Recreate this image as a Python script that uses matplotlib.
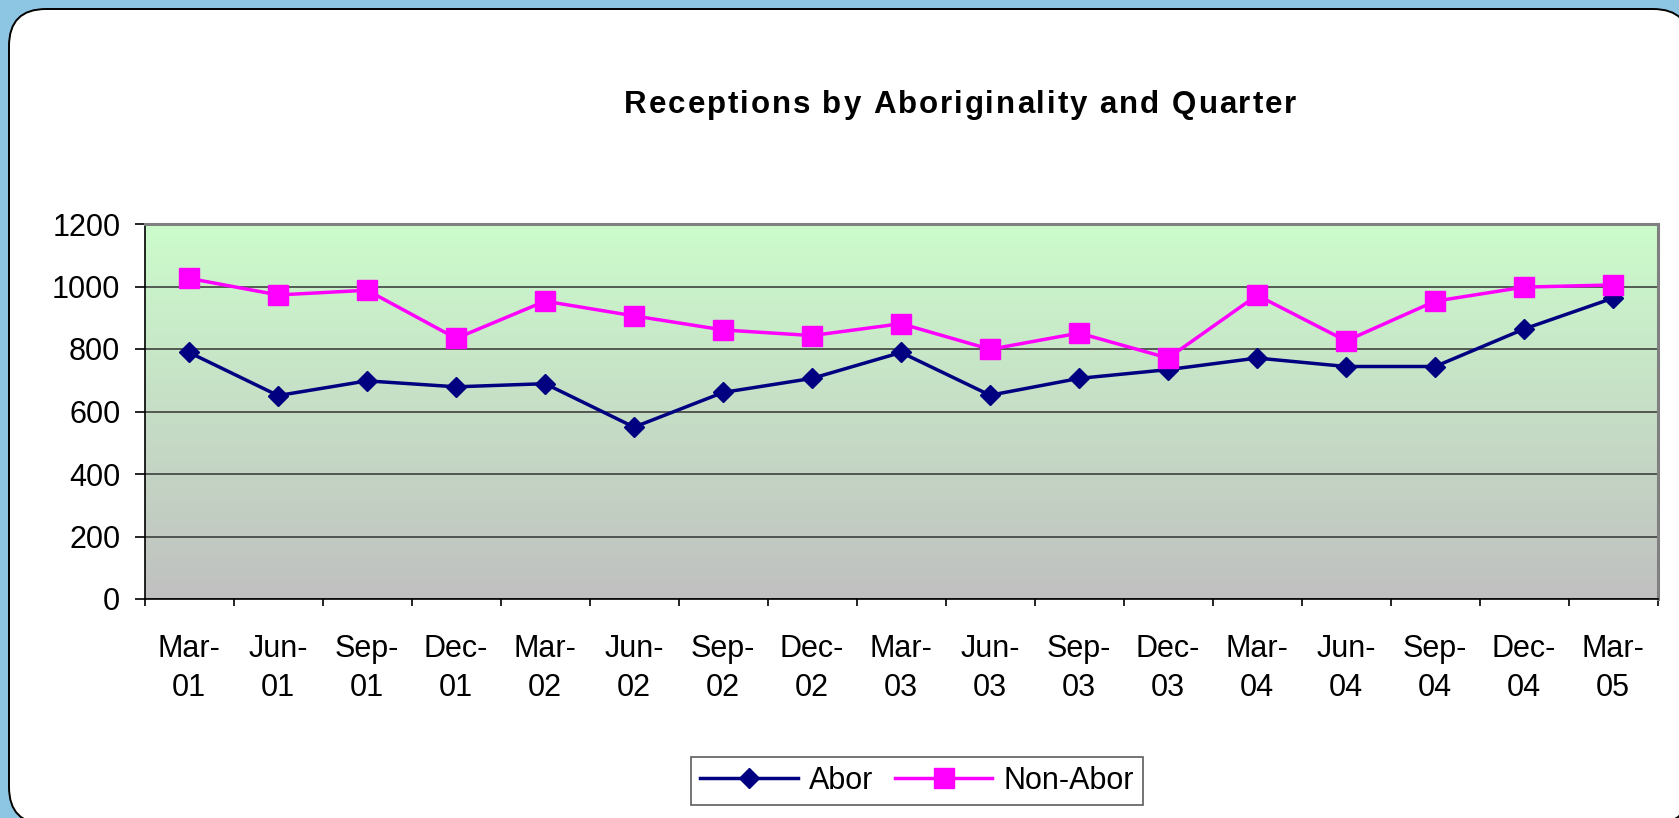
import numpy as np
import matplotlib
matplotlib.use("Agg")
import matplotlib.pyplot as plt
from matplotlib.patches import FancyBboxPatch
from matplotlib.colors import LinearSegmentedColormap

plt.rcParams['font.family'] = ['Liberation Sans', 'DejaVu Sans']

# quarters (two-line tick labels as in the original)
quarters = ['Mar-\n01', 'Jun-\n01', 'Sep-\n01', 'Dec-\n01',
            'Mar-\n02', 'Jun-\n02', 'Sep-\n02', 'Dec-\n02',
            'Mar-\n03', 'Jun-\n03', 'Sep-\n03', 'Dec-\n03',
            'Mar-\n04', 'Jun-\n04', 'Sep-\n04', 'Dec-\n04',
            'Mar-\n05']

abor = [789, 651, 698, 679, 689, 550, 661, 706, 789, 652,
        706, 734, 771, 744, 744, 864, 963]
non_abor = [1026, 973, 988, 834, 953, 906, 861, 843, 881, 799,
            851, 771, 972, 826, 953, 998, 1005]

title = 'Receptions by Aboriginality and Quarter'

W, H = 1679, 818
fig = plt.figure(figsize=(W / 100, H / 100), dpi=100, facecolor='#8DC6E3')

# white rounded panel drawn in pixel space
bg = fig.add_axes([0, 0, 1, 1])
bg.set_xlim(0, W)
bg.set_ylim(0, H)
bg.axis('off')
panel = FancyBboxPatch((9, -6), 1681, 815,
                       boxstyle='round,pad=0,rounding_size=37',
                       facecolor='white', edgecolor='black', lw=1.4)
bg.add_patch(panel)

ax = fig.add_axes([144.6 / W, 1 - 599 / H, (1657.6 - 144.6) / W, (599 - 224) / H])

# plot-area gradient: light green at the top to gray at the bottom
cmap = LinearSegmentedColormap.from_list('pa', ['#C0C0C0', '#CCFCCC'])
grad = np.linspace(0, 1, 256).reshape(-1, 1)
ax.imshow(grad, cmap=cmap, origin='lower', aspect='auto',
          extent=[0, 1, 0, 1], transform=ax.transAxes, zorder=0)

x = np.arange(len(quarters))
ax.plot(x, abor, color='#000080', lw=2.5, marker='D', ms=10.5,
        mec='#000080', mfc='#000080', label='Abor', zorder=3)
ax.plot(x, non_abor, color='#FF00FF', lw=2.5, marker='s', ms=14,
        mec='#FF00FF', mfc='#FF00FF', label='Non-Abor', zorder=3)

ax.set_xlim(-0.5, len(quarters) - 0.5)
ax.set_ylim(0, 1200)
ax.set_yticks(np.arange(0, 1201, 200))
ax.yaxis.grid(True, color='#333333', lw=1.1)
for gl in ax.get_ygridlines():
    gl.set_zorder(1)

ax.set_xticks(x)
ax.set_xticklabels(quarters, fontsize=22, linespacing=1.42)
ax.set_xticks(np.arange(-0.5, len(quarters)), minor=True)
ax.tick_params(axis='x', which='major', length=0, pad=25)
ax.tick_params(axis='x', which='minor', length=5, width=1.2, direction='out')
ax.tick_params(axis='y', length=7.5, width=1.2, direction='out', pad=10, labelsize=22)

for side in ['top', 'right']:
    ax.spines[side].set_color('#808080')
    ax.spines[side].set_linewidth(2.2)
for side in ['left', 'bottom']:
    ax.spines[side].set_color('black')
    ax.spines[side].set_linewidth(1.2)

# title with Excel-like letter spacing: place the characters one by one
renderer = fig.canvas.get_renderer()
tsize = 22.5
x0, x1, base = 624, 1296, H - 112.7


def text_w(s):
    t = bg.text(0, 0, s, fontsize=tsize, fontweight='bold')
    w = t.get_window_extent(renderer).width
    t.remove()
    return w


space_w = text_w('a a') - text_w('aa')
widths = [text_w(ch) if ch != ' ' else space_w for ch in title]
track = ((x1 - x0) - sum(widths)) / (len(title) - 1)
pos = x0
for ch, w in zip(title, widths):
    if ch != ' ':
        bg.text(pos, base, ch, fontsize=tsize, fontweight='bold',
                va='baseline', ha='left')
    pos += w + track

leg = fig.legend(loc='center', bbox_to_anchor=(917 / W, 1 - 781 / H), ncol=2,
                 fontsize=22, frameon=True, fancybox=False, edgecolor='#333333',
                 handlelength=3.2, handletextpad=0.35, columnspacing=0.7,
                 borderpad=0.3, borderaxespad=0)
leg.get_frame().set_linewidth(1.2)

fig.savefig('out.png', dpi=100, facecolor=fig.get_facecolor())
